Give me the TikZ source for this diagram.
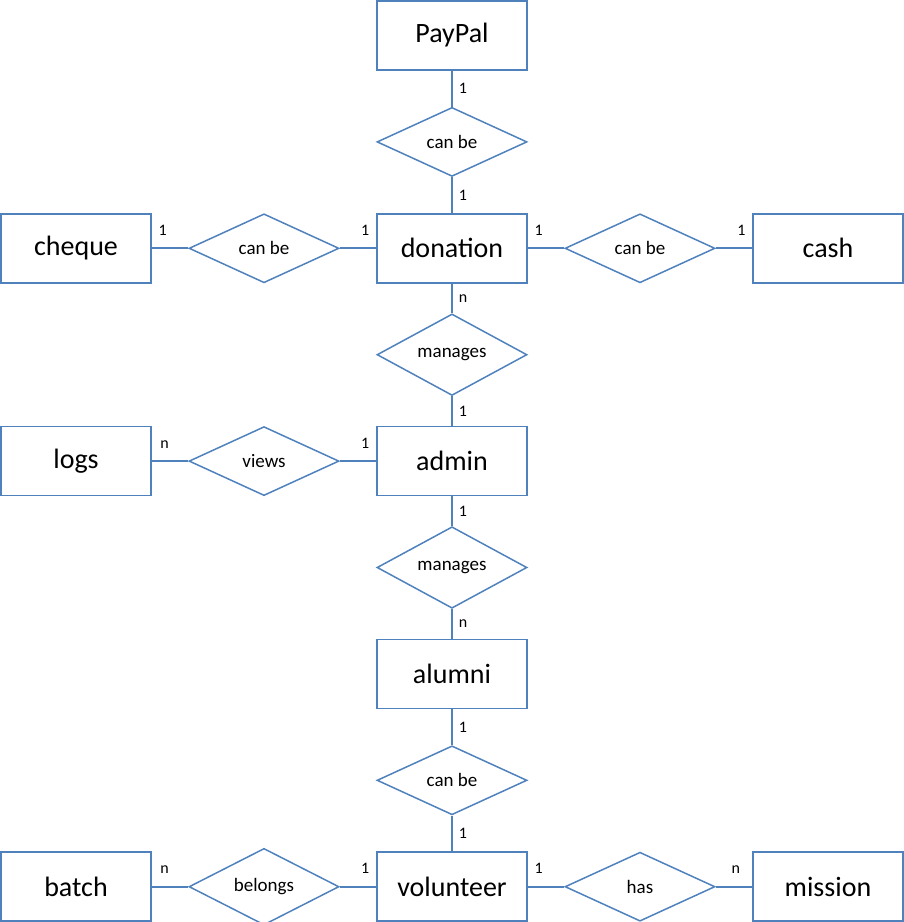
\documentclass[tikz,border=0pt]{standalone}
\usepackage{fontspec}
\setmainfont{Carlito}
\usetikzlibrary{positioning,shapes.geometric}
\definecolor{erblue}{HTML}{4F81BD}

\begin{document}
\begin{tikzpicture}[x=1pt,y=1pt,node distance=106.4pt and 188pt,on grid,
    entity/.style={draw=erblue,line width=1.5pt,minimum width=150pt,minimum height=69pt,inner sep=0pt,font=\fontsize{28}{28}\selectfont},
    rel/.style={diamond,draw=erblue,line width=1.5pt,minimum width=150pt,minimum height=69pt,inner sep=0pt,font=\fontsize{19}{19}\selectfont},
    card/.style={font=\fontsize{16}{16}\selectfont,inner sep=2pt},
    link/.style={draw=erblue,line width=1.8pt,preaction={draw=black!25,line width=2pt,transform canvas={yshift=-2.5pt}}}]
    \useasboundingbox (0,0) rectangle (904,-922);
    	\node[entity] (paypal) at (452,-35.5) {PayPal};
    	\node[rel] (canbe_p) [below=of paypal] {can be};
    	\node[entity] (donation) [below=of canbe_p] {donation};
    	\node[rel] (canbe_c) [left=of donation] {can be};
    	\node[entity] (cheque) [left=of canbe_c] {cheque};
    	\node[rel] (canbe_k) [right=of donation] {can be};
    	\node[entity] (cash) [right=of canbe_k] {cash};
    	\node[rel] (manages_d) [below=of donation] {manages};
    	\node[entity] (admin) [below=of manages_d] {admin};
    	\node[rel] (views) [left=of admin] {views};
    	\node[entity] (logs) [left=of views] {logs};
    	\node[rel] (manages_a) [below=of admin] {manages};
    	\node[entity] (alumni) [below=of manages_a] {alumni};
    	\node[rel] (canbe_v) [below=of alumni] {can be};
    	\node[entity] (volunteer) [below=of canbe_v] {volunteer};
    	\node[rel] (belongs) [left=of volunteer] {belongs};
    	\node[entity] (batch) [left=of belongs] {batch};
    	\node[rel] (has) [right=of volunteer] {has};
    	\node[entity] (mission) [right=of has] {mission};
        \path[link]
        (paypal) edge node[card,right=4pt] {1} (canbe_p)
        (canbe_p) edge node[card,right=4pt] {1} (donation)
        (cheque) edge node[card,above=10pt,pos=0.3] {1} (canbe_c)
        (canbe_c) edge node[card,above=10pt,pos=0.7] {1} (donation)
        (donation) edge node[card,above=10pt,pos=0.3] {1} (canbe_k)
        (canbe_k) edge node[card,above=10pt,pos=0.7] {1} (cash)
        (donation) edge node[card,right=4pt] {n} (manages_d)
        (manages_d) edge node[card,right=4pt] {1} (admin)
        (logs) edge node[card,above=10pt,pos=0.35] {n} (views)
        (views) edge node[card,above=10pt,pos=0.7] {1} (admin)
        (admin) edge node[card,right=4pt] {1} (manages_a)
        (manages_a) edge node[card,right=4pt] {n} (alumni)
        (alumni) edge node[card,right=4pt] {1} (canbe_v)
        (canbe_v) edge node[card,right=4pt] {1} (volunteer)
        (batch) edge node[card,above=10pt,pos=0.35] {n} (belongs)
        (belongs) edge node[card,above=10pt,pos=0.7] {1} (volunteer)
        (volunteer) edge node[card,above=10pt,pos=0.3] {1} (has)
        (has) edge node[card,above=10pt,pos=0.55] {n} (mission)
              ;
	\end{tikzpicture}
\end{document}
